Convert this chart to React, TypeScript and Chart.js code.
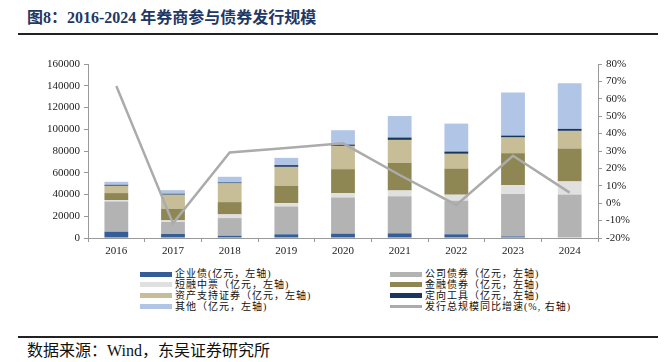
import React, { useEffect, useRef } from "react";
import { Chart, registerables } from "chart.js";

Chart.register(...registerables);

const years = ["2016", "2017", "2018", "2019", "2020", "2021", "2022", "2023", "2024"];
const enterpriseBond = [5800, 3700, 2100, 3400, 4000, 4300, 3400, 1500, 600];
const corporateBond = [27800, 11000, 16200, 25600, 33300, 34200, 30900, 38900, 39500];
const shortMidNote = [1300, 1500, 3400, 3100, 4000, 5200, 5500, 8200, 11900];
const financialBond = [6400, 10700, 11300, 15900, 22000, 25400, 24100, 29400, 30300];
const abs = [6700, 12900, 17200, 17400, 21400, 21100, 13500, 14400, 16200];
const targetedTool = [900, 900, 900, 1600, 1200, 2200, 2100, 1800, 1800];
const others = [2800, 3300, 5200, 6700, 13200, 19800, 25700, 39700, 41900];
const growthPct = [67.3, -11.6, 29.1, 31.7, 34.4, 16.2, -1.0, 27.3, 6.1];

const leftTicks = [0, 20000, 40000, 60000, 80000, 100000, 120000, 140000, 160000];
const rightTicks = [-20, -10, 0, 10, 20, 30, 40, 50, 60, 70, 80];

const seriesNames = [
  "企业债(亿元，左轴)",
  "公司债券（亿元，左轴)",
  "短融中票（亿元，左轴)",
  "金融债券（亿元，左轴)",
  "资产支持证券（亿元，左轴)",
  "定向工具（亿元，左轴)",
  "其他（亿元，左轴)",
  "发行总规模同比增速(%, 右轴)",
];
const seriesColors = ["#355E99", "#B3B3B3", "#E0E0E0", "#8F8753", "#C7BE97", "#1B365D", "#B1C5E6", "#ABABAB"];

const FONT = "'Liberation Serif', 'Noto Sans CJK SC', serif";

export default function App() {
  const ref = useRef<HTMLCanvasElement | null>(null);

  useEffect(() => {
    if (!ref.current) return;
    const barData = [enterpriseBond, corporateBond, shortMidNote, financialBond, abs, targetedTool, others];
    const datasets: any[] = barData.map((d, i) => ({
      type: "bar",
      label: seriesNames[i],
      data: d,
      backgroundColor: seriesColors[i],
      borderWidth: 0,
      stack: "s",
      yAxisID: "y",
      order: 1,
      barPercentage: 0.42,
      categoryPercentage: 1,
    }));
    datasets.push({
      type: "line",
      label: seriesNames[7],
      data: growthPct,
      borderColor: seriesColors[7],
      borderWidth: 2.5,
      pointRadius: 0,
      tension: 0,
      yAxisID: "y1",
      order: 0,
    });
    const chart = new Chart(ref.current, {
      type: "bar",
      data: { labels: years, datasets },
      options: {
        animation: false,
        responsive: false,
        layout: { padding: { top: 24, left: 0, right: 0, bottom: 0 } },
        plugins: { legend: { display: false }, tooltip: { enabled: false } },
        scales: {
          x: {
            stacked: true,
            offset: true,
            grid: { display: true, drawOnChartArea: false, offset: true, tickLength: 4, color: "#999" },
            border: { color: "#999" },
            ticks: { color: "#222", font: { family: FONT, size: 11 }, padding: 3, maxRotation: 0 },
            afterFit: (s: any) => { s.height = 24; },
          },
          y: {
            stacked: true,
            position: "left",
            min: 0,
            max: 160000,
            afterBuildTicks: (s: any) => { s.ticks = leftTicks.map((v) => ({ value: v })); },
            grid: { display: true, drawOnChartArea: false, tickLength: 4, color: "#999" },
            border: { color: "#999" },
            ticks: { color: "#222", font: { family: FONT, size: 11 }, padding: 4, callback: (v: any) => String(v) },
            afterFit: (s: any) => { s.width = 88; },
          },
          y1: {
            position: "right",
            min: -20,
            max: 80,
            afterBuildTicks: (s: any) => { s.ticks = rightTicks.map((v) => ({ value: v })); },
            grid: { display: true, drawOnChartArea: false, tickLength: 4, color: "#999" },
            border: { color: "#999" },
            ticks: { color: "#222", font: { family: FONT, size: 11 }, padding: 4, callback: (v: any) => v + "%" },
            afterFit: (s: any) => { s.width = 66; },
          },
        },
      },
    });
    return () => chart.destroy();
  }, []);

  const legendRow = (i: number) => {
    const col = i % 2;
    const row = Math.floor(i / 2);
    const sx = col === 0 ? 140 : 390;
    const cy = 274 + row * 10.9;
    const isLine = i === 7;
    return (
      <div key={i}>
        <div
          style={{
            position: "absolute",
            left: sx,
            top: cy - (isLine ? 1.25 : 2.5),
            width: 32,
            height: isLine ? 2.5 : 5,
            background: seriesColors[i],
          }}
        />
        <div
          style={{
            position: "absolute",
            left: sx + 35,
            top: cy - 6,
            height: 12,
            lineHeight: "12px",
            fontSize: 10,
            letterSpacing: 1,
            fontFamily: FONT,
            color: "#111",
            whiteSpace: "nowrap",
          }}
        >
          {seriesNames[i]}
        </div>
      </div>
    );
  };

  const legendOrder = [0, 1, 2, 3, 4, 5, 6, 7];

  return (
    <div style={{ position: "absolute", left: 0, top: 0, width: 664, height: 362, background: "#fff", overflow: "hidden" }}>
      <div
        style={{
          position: "absolute",
          left: 27,
          top: 7,
          height: 22,
          lineHeight: "22px",
          fontSize: 16,
          fontWeight: "bold",
          fontFamily: FONT,
          color: "#1F3864",
          whiteSpace: "nowrap",
        }}
      >
        图8：2016-2024 年券商参与债券发行规模
      </div>
      <div style={{ position: "absolute", left: 18, top: 32.5, width: 640, height: 2, background: "#222" }} />
      <canvas ref={ref} width={664} height={222} style={{ position: "absolute", left: 0, top: 40, width: 664, height: 222 }} />
      {legendOrder.map((i) => legendRow(i))}
      <div style={{ position: "absolute", left: 18, top: 335.5, width: 640, height: 2, background: "#222" }} />
      <div
        style={{
          position: "absolute",
          left: 27,
          top: 341,
          height: 20,
          lineHeight: "20px",
          fontSize: 16,
          fontFamily: FONT,
          color: "#111",
          whiteSpace: "nowrap",
        }}
      >
        数据来源：Wind，东吴证券研究所
      </div>
    </div>
  );
}
